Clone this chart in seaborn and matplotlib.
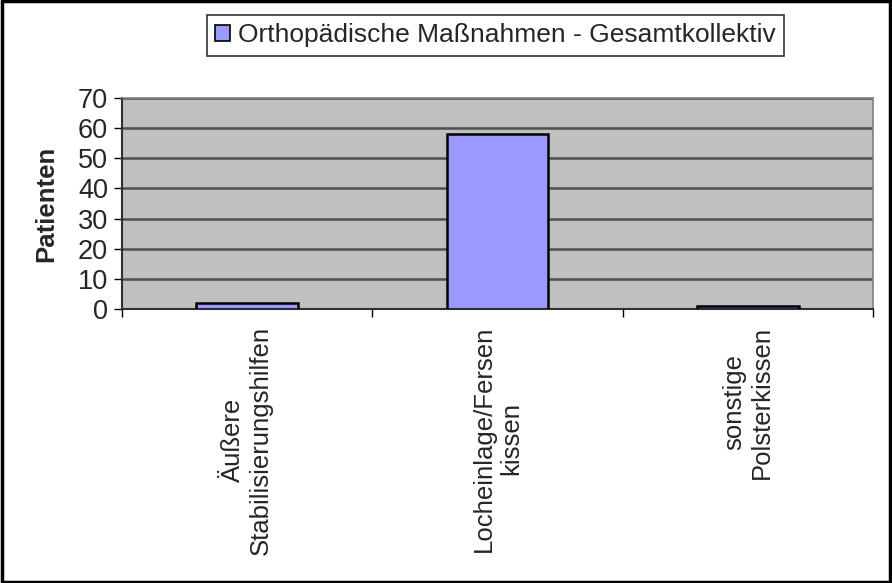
import matplotlib
matplotlib.use("Agg")
import matplotlib.pyplot as plt
import matplotlib.patches as mpatches
import seaborn as sns
import pandas as pd

categories = ["Äußere\nStabilisierungshilfen", "Locheinlage/Fersen\nkissen", "sonstige\nPolsterkissen"]
values = [2, 58, 1]
series_name = "Orthopädische Maßnahmen - Gesamtkollektiv"
y_ticks = [0, 10, 20, 30, 40, 50, 60, 70]

sns.set_theme(style="white")
plt.rcParams['font.family'] = ['Liberation Sans', 'DejaVu Sans']

df = pd.DataFrame({"Kategorie": categories, "Patienten": values})

fig = plt.figure(figsize=(8.92, 5.83), dpi=100)
ax = fig.add_axes([122/892, 1-309/583, (873-122)/892, (309-98)/583])
ax.set_facecolor("#C0C0C0")

sns.barplot(data=df, x="Kategorie", y="Patienten", color="#9999FF", saturation=1,
            edgecolor="black", linewidth=1.8, width=0.405, ax=ax, zorder=3)

ax.set_ylim(0, 70)
ax.set_xlim(-0.5, 2.5)
ax.set_yticks(y_ticks)
ax.set_yticklabels([str(t) for t in y_ticks], fontsize=19.5)
ax.yaxis.grid(True, color="#505050", linewidth=1.8, zorder=1)
ax.set_axisbelow(True)

ax.set_xticks(range(len(categories)))
ax.set_xticklabels(categories, rotation=90, fontsize=18.5, multialignment="center", va="top", ha="center")
ax.tick_params(axis="x", which="major", length=0, pad=12)
ax.set_xticks([-0.5, 0.5, 1.5, 2.5], minor=True)
ax.tick_params(axis="x", which="minor", length=6, width=1, color="black", direction="out", bottom=True)
ax.tick_params(axis="y", length=6, width=1, color="black", direction="out", left=True, pad=4)

ax.set_xlabel("")
ax.set_ylabel("Patienten", fontsize=18.5, fontweight="bold", labelpad=14)

for side in ["top", "right"]:
    ax.spines[side].set_color("#808080")
    ax.spines[side].set_linewidth(1.2)
for side in ["left", "bottom"]:
    ax.spines[side].set_color("#303030")
    ax.spines[side].set_linewidth(1.5)

handle = mpatches.Patch(facecolor="#9999FF", edgecolor="black", linewidth=1.2)
leg = fig.legend(handles=[handle], labels=[series_name], loc="upper left",
                 bbox_to_anchor=(207/892, 1-15/583), fontsize=19, frameon=True,
                 fancybox=False, shadow=False, handlelength=0.55, handleheight=0.55,
                 handletextpad=0.3, borderpad=0.32, borderaxespad=0)
leg.get_frame().set_edgecolor("black")
leg.get_frame().set_linewidth(1.2)

border = mpatches.Rectangle((0.002, 0.002), 0.996, 0.996, transform=fig.transFigure,
                            fill=False, edgecolor="black", linewidth=2.5)
fig.patches.append(border)

fig.savefig("out.png", dpi=100)
